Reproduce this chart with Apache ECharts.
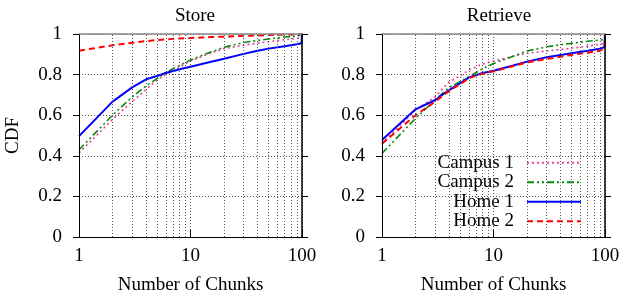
<!DOCTYPE html>
<html>
<head>
<meta charset="utf-8">
<script src="https://cdn.jsdelivr.net/npm/echarts@6/dist/echarts.min.js"></script>
<style>
  html, body { margin: 0; background: #fff; }
  #chart { width: 622px; height: 301px; }
</style>
</head>
<body>
<div id="chart"></div>
<script>
// number of chunks sampled along the log x axis
const chunks = [1, 2, 3, 4, 5, 6, 7, 8, 10, 15, 20, 30, 40, 50, 70, 90, 99, 100]

// Store
const storeCampus1 = [0.414, 0.58, 0.667, 0.727, 0.773, 0.80, 0.82, 0.838, 0.868, 0.905, 0.928, 0.945, 0.955, 0.962, 0.972, 0.978, 0.982, 1]
const storeCampus2 = [0.43, 0.60, 0.69, 0.744, 0.78, 0.81, 0.83, 0.845, 0.872, 0.91, 0.935, 0.958, 0.968, 0.975, 0.985, 0.99, 0.995, 1]
const storeHome1 = [0.497, 0.667, 0.737, 0.777, 0.793, 0.808, 0.818, 0.826, 0.839, 0.862, 0.878, 0.902, 0.917, 0.928, 0.94, 0.95, 0.954, 1]
const storeHome2 = [0.918, 0.944, 0.957, 0.965, 0.970, 0.973, 0.976, 0.978, 0.980, 0.985, 0.987, 0.991, 0.993, 0.995, 0.997, 0.998, 0.999, 1]

// Retrieve
const retrCampus1 = [0.46, 0.626, 0.69, 0.765, 0.793, 0.822, 0.839, 0.852, 0.867, 0.89, 0.905, 0.916, 0.924, 0.93, 0.94, 0.95, 0.955, 1]
const retrCampus2 = [0.412, 0.585, 0.675, 0.737, 0.765, 0.79, 0.81, 0.83, 0.855, 0.89, 0.916, 0.937, 0.947, 0.954, 0.964, 0.97, 0.974, 0.978]
const retrHome1 = [0.478, 0.629, 0.675, 0.724, 0.757, 0.785, 0.798, 0.808, 0.819, 0.845, 0.864, 0.885, 0.897, 0.905, 0.917, 0.928, 0.935, 1]
const retrHome2 = [0.46, 0.60, 0.667, 0.72, 0.752, 0.782, 0.795, 0.804, 0.816, 0.842, 0.86, 0.877, 0.888, 0.897, 0.908, 0.918, 0.93, 1]

const names = ['Campus 1', 'Campus 2', 'Home 1', 'Home 2']
const xMinorGrid = [2, 3, 4, 5, 6, 7, 8, 9, 20, 30, 40, 50, 60, 70, 80, 90]

const font = 'Liberation Serif'
const styles = [
  { color: '#e8409c', type: [2, 3], width: 1.6 },
  { color: '#0a8a0a', type: [7, 3, 2, 3, 2, 3], width: 1.6 },
  { color: '#0000ff', type: 'solid', width: 2 },
  { color: '#ff0000', type: [6, 4], width: 2 }
]

function pairs(vals) {
  return chunks.map((c, i) => [c, vals[i]])
}

function lineSeries(name, vals, idx, k) {
  return {
    name: name,
    type: 'line',
    xAxisIndex: idx * 2,
    yAxisIndex: idx * 2,
    data: pairs(vals),
    symbol: 'none',
    z: 3,
    itemStyle: { color: styles[k].color },
    lineStyle: styles[k],
    animation: false
  }
}

// dotted grid lines at the minor log positions
function gridSeries(idx) {
  return {
    type: 'line',
    xAxisIndex: idx * 2,
    yAxisIndex: idx * 2,
    data: [],
    silent: true,
    z: 1,
    markLine: {
      silent: true,
      symbol: 'none',
      label: { show: false },
      animation: false,
      lineStyle: { color: '#555', type: [1, 2], width: 1 },
      data: xMinorGrid.map(v => ({ xAxis: v }))
    }
  }
}

function xAxes(idx) {
  return [{
    type: 'log',
    logBase: 10,
    gridIndex: idx,
    min: 1,
    max: 100,
    z: 5,
    name: 'Number of Chunks',
    nameLocation: 'middle',
    nameGap: 39,
    nameTextStyle: { fontFamily: font, fontSize: 19, color: '#000' },
    axisLine: { onZero: false, lineStyle: { color: '#000', width: 1 } },
    axisTick: { inside: true, length: 7, lineStyle: { color: '#000' } },
    axisLabel: { fontFamily: font, fontSize: 19, color: '#000', margin: 10 },
    splitLine: { show: true, lineStyle: { color: '#555', type: [1, 2] } },
    minorTick: { show: false },
    minorSplitLine: { show: false }
  }, {
    type: 'log',
    logBase: 10,
    gridIndex: idx,
    position: 'top',
    min: 1,
    max: 100,
    z: 5,
    axisLine: { onZero: false, lineStyle: { color: '#888', width: 1.5 } },
    axisTick: { show: false },
    axisLabel: { show: false },
    splitLine: { show: false }
  }]
}

function yAxes(idx) {
  return [{
    type: 'value',
    gridIndex: idx,
    min: 0,
    max: 1,
    interval: 0.2,
    z: 5,
    name: idx === 0 ? 'CDF' : '',
    nameLocation: 'middle',
    nameGap: 56,
    nameTextStyle: { fontFamily: font, fontSize: 19, color: '#000' },
    axisLine: { show: true, onZero: false, lineStyle: { color: '#000', width: 1 } },
    axisTick: { show: true, length: 6, lineStyle: { color: '#000' } },
    axisLabel: { fontFamily: font, fontSize: 19, color: '#000', margin: 17 },
    splitLine: { show: true, lineStyle: { color: '#555', type: [1, 2] } }
  }, {
    type: 'value',
    gridIndex: idx,
    position: 'right',
    min: 0,
    max: 1,
    interval: 0.2,
    z: 5,
    axisLine: { show: true, onZero: false, lineStyle: { color: '#000', width: 1.5 } },
    axisTick: { show: true, length: 6, lineStyle: { color: '#000' } },
    axisLabel: { show: false },
    splitLine: { show: false }
  }]
}

const chart = echarts.init(document.getElementById('chart'))
chart.setOption({
  animation: false,
  textStyle: { fontFamily: font },
  title: [
    { text: 'Store', left: 190, top: 2, textAlign: 'center', textStyle: { fontFamily: font, fontSize: 19, fontWeight: 'normal', color: '#000' } },
    { text: 'Retrieve', left: 494, top: 2, textAlign: 'center', textStyle: { fontFamily: font, fontSize: 19, fontWeight: 'normal', color: '#000' } }
  ],
  grid: [
    { left: 79, right: 320, top: 34, bottom: 64, outerBoundsMode: 'none' },
    { left: 382, right: 17, top: 34, bottom: 64, outerBoundsMode: 'none' }
  ],
  legend: {
    data: names,
    orient: 'vertical',
    align: 'right',
    right: 30,
    top: 145,
    z: 2,
    padding: [8, 10, 0, 7],
    backgroundColor: '#fff',
    itemWidth: 54,
    itemHeight: 10,
    itemGap: 0,
    itemStyle: { opacity: 0 },
    textStyle: { fontFamily: font, fontSize: 19, color: '#000', lineHeight: 19.5, padding: [0, 8, 0, 0] },
    selectedMode: false
  },
  xAxis: [...xAxes(0), ...xAxes(1)],
  yAxis: [...yAxes(0), ...yAxes(1)],
  series: [
    gridSeries(0),
    gridSeries(1),
    lineSeries(names[0], storeCampus1, 0, 0),
    lineSeries(names[1], storeCampus2, 0, 1),
    lineSeries(names[2], storeHome1, 0, 2),
    lineSeries(names[3], storeHome2, 0, 3),
    lineSeries(names[0], retrCampus1, 1, 0),
    lineSeries(names[1], retrCampus2, 1, 1),
    lineSeries(names[2], retrHome1, 1, 2),
    lineSeries(names[3], retrHome2, 1, 3)
  ]
})
</script>
</body>
</html>
